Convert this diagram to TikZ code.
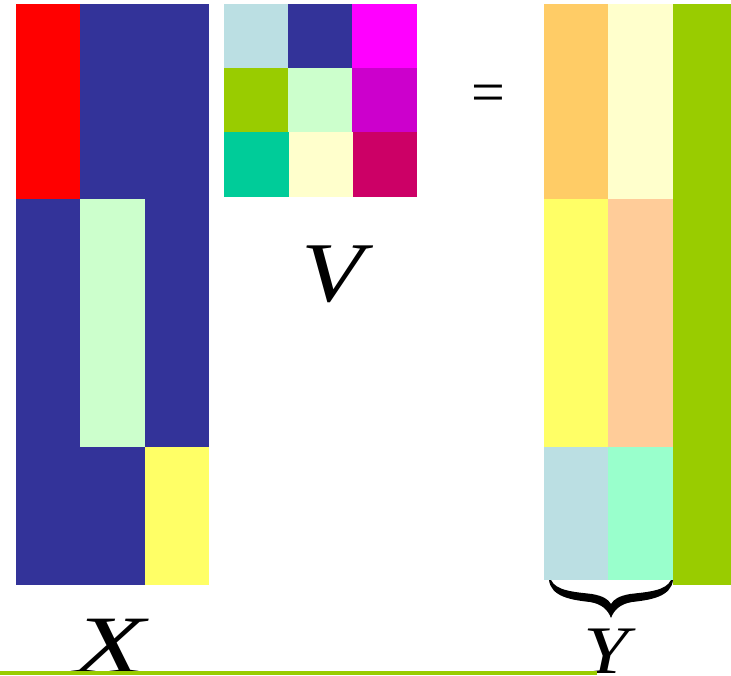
\documentclass[tikz,border=0pt]{standalone}
\usepackage{fontspec}
\setmainfont{Liberation Serif}
\definecolor{cblue}{HTML}{333399}
\definecolor{cred}{HTML}{FF0000}
\definecolor{clgreen}{HTML}{CCFFCC}
\definecolor{cyellow}{HTML}{FFFF66}
\definecolor{clblue}{HTML}{BBDFE3}
\definecolor{cmag}{HTML}{FF00FF}
\definecolor{cgreen}{HTML}{99CC00}
\definecolor{cpurple}{HTML}{CC00CC}
\definecolor{cteal}{HTML}{00CC99}
\definecolor{clyellow}{HTML}{FFFFCC}
\definecolor{crose}{HTML}{CC0066}
\definecolor{corange}{HTML}{FFCC66}
\definecolor{cpeach}{HTML}{FFCC99}
\definecolor{caqua}{HTML}{99FFCC}
\newcommand{\widelab}[3]{{\fontsize{#1}{#1}\selectfont\itshape\scalebox{#2}[1]{#3}}}
\tikzset{
  biglabel/.style={inner sep=0pt, anchor=base},
}
\begin{document}
\begin{tikzpicture}[x=1pt,y=-1pt]
\useasboundingbox (0,0) rectangle (731,675);
% X matrix
\fill[cblue] (16,4) rectangle (209,585);
\fill[cred] (16,4) rectangle (80,199);
\fill[clgreen] (80,199) rectangle (145,447);
\fill[cyellow] (145,447) rectangle (209,585);
% V matrix
\fill[clblue] (224,4) rectangle (288,68);
\fill[cblue] (288,4) rectangle (352,68);
\fill[cmag] (352,4) rectangle (417,68);
\fill[cgreen] (224,68) rectangle (288,132);
\fill[clgreen] (288,68) rectangle (352,132);
\fill[cpurple] (352,68) rectangle (417,132);
\fill[cteal] (224,132) rectangle (289,197);
\fill[clyellow] (289,132) rectangle (353,197);
\fill[crose] (353,132) rectangle (417,197);
% Y matrix
\fill[corange] (544,4) rectangle (608,199);
\fill[clyellow] (608,4) rectangle (673,199);
\fill[cyellow] (544,199) rectangle (608,447);
\fill[cpeach] (608,199) rectangle (673,447);
\fill[clblue] (544,447) rectangle (608,580);
\fill[caqua] (608,447) rectangle (673,580);
\fill[cgreen] (673,4) rectangle (731,585);
% equals
\node[inner sep=0pt, font=\fontsize{60}{60}\selectfont] (eq) at (488,99) {=};
% brace
\fill[black] (549,580) .. controls (551,597) and (572,600) .. (590,602)
  .. controls (602,604) and (608,610) .. (611,618)
  .. controls (614,610) and (620,604) .. (632,602)
  .. controls (650,600) and (671,597) .. (673,580)
  -- (671,580)
  .. controls (666,591) and (647,592) .. (630,594)
  .. controls (619,596) and (614,599) .. (611,604)
  .. controls (608,599) and (603,596) .. (592,594)
  .. controls (575,592) and (556,591) .. (551,580) -- cycle;
% labels
\node[biglabel] (vlab) at (333,301) {\widelab{85}{1.2}{V}};
\node[biglabel] (xlab) at (110,673) {\widelab{83}{1.4}{X}};
\node[biglabel] (ylab) at (606,673) {\widelab{68}{1.2}{Y}};
% bottom line
\coordinate (la) at (0,673);
\coordinate (lb) at (597,673);
\draw[cgreen, line width=4.5pt] (la) -- (lb);
\end{tikzpicture}
\end{document}
